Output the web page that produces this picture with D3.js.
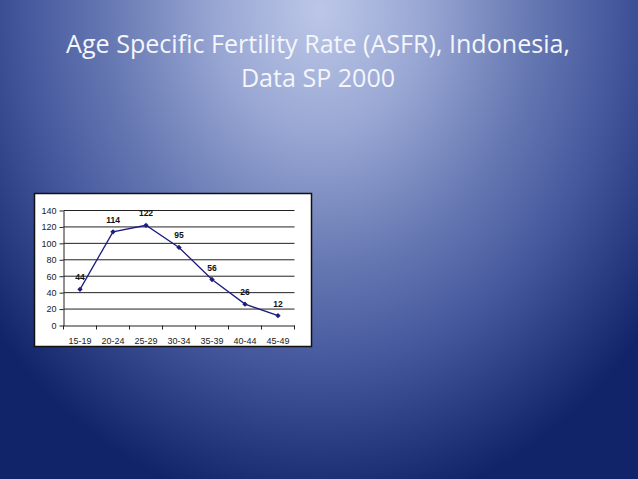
<!DOCTYPE html>
<html>
<head>
<meta charset="utf-8">
<script src="https://cdn.jsdelivr.net/npm/d3@7"></script>
<style>
html, body { margin: 0; padding: 0; overflow: hidden; background: #1a2c6e; }
</style>
</head>
<body>
<svg width="638" height="479"></svg>
<script>
// donnees
let ageGroups = ["15-19", "20-24", "25-29", "30-34", "35-39", "40-44", "45-49"];
let asfr = [44, 114, 122, 95, 56, 26, 12];
let yTicks = [0, 20, 40, 60, 80, 100, 120, 140];
let titleLines = ["Age Specific Fertility Rate (ASFR), Indonesia,", "Data SP 2000"];

let svg = d3.select("svg");

// fond degrade (clair en haut au centre, sombre dans les coins bas)
let grad = svg.append("defs")
    .append("radialGradient")
    .attr("id", "fond")
    .attr("gradientUnits", "userSpaceOnUse")
    .attr("cx", 320).attr("cy", 10).attr("r", 420)
    .attr("gradientTransform", "translate(320,10) scale(1,1.2) translate(-320,-10)");
[[0, "#bcc7e7"], [0.25, "#98a6d3"], [0.5, "#6779b3"], [0.72, "#42559b"], [1, "#112469"]]
    .forEach(s => grad.append("stop").attr("offset", s[0]).attr("stop-color", s[1]));

svg.append("rect")
    .attr("width", 638).attr("height", 479)
    .style("fill", "url(#fond)");

// titre
let title = svg.append("g")
    .style("font-family", "'Open Sans', sans-serif")
    .style("fill", "#f4f6fb");
let t1 = title.append("text")
    .attr("x", 318).attr("y", 53)
    .attr("text-anchor", "middle")
    .style("font-size", "24px")
    .text(titleLines[0]);
// ajuster la taille pour retrouver la largeur de l'original
let w = t1.node().getComputedTextLength();
let fs = 24 * 504 / w;
t1.style("font-size", fs + "px");
title.append("text")
    .attr("x", 318).attr("y", 87)
    .attr("text-anchor", "middle")
    .style("font-size", fs + "px")
    .text(titleLines[1]);

// cadre du graphique
svg.append("rect")
    .attr("x", 34.5).attr("y", 193.5)
    .attr("width", 277).attr("height", 153)
    .style("fill", "white")
    .style("stroke", "#111")
    .style("stroke-width", 1.5);

let x = d3.scaleBand().domain(ageGroups).range([63.5, 294.5]);
let y = d3.scaleLinear().domain([0, 140]).range([325.5, 210.5]);
let cx = d => x(d) + x.bandwidth() / 2;

// lignes de grille
svg.append("g")
    .selectAll("line")
    .data(yTicks.filter(v => v > 0))
    .enter()
    .append("line")
    .attr("x1", 63.5).attr("x2", 294.5)
    .attr("y1", d => y(d)).attr("y2", d => y(d))
    .style("stroke", "#222")
    .style("stroke-width", 1);

// axe vertical
let axeY = svg.append("g")
    .attr("transform", "translate(63.5,0)")
    .call(d3.axisLeft(y).tickValues(yTicks).tickSize(4).tickSizeOuter(0).tickPadding(3));
axeY.select(".domain").style("stroke", "#222");
axeY.selectAll(".tick line").style("stroke", "#222");
axeY.selectAll("text")
    .style("font-family", "'Liberation Sans', Arial, sans-serif")
    .style("font-size", "9px")
    .style("fill", "#222");

// axe horizontal
let axeX = svg.append("g")
    .attr("transform", "translate(0,325.5)")
    .call(d3.axisBottom(x).tickSize(0).tickSizeOuter(0).tickPadding(12));
axeX.select(".domain").style("stroke", "#222");
axeX.selectAll("text")
    .style("font-family", "'Liberation Sans', Arial, sans-serif")
    .style("font-size", "9px")
    .style("fill", "#222");
// petites graduations entre les categories
axeX.selectAll("line.sep")
    .data(ageGroups.map(d => x(d)).concat([x.range()[1]]))
    .enter()
    .append("line")
    .attr("class", "sep")
    .attr("x1", d => d).attr("x2", d => d)
    .attr("y1", 0).attr("y2", 4)
    .style("stroke", "#222");

// courbe
let serie = ageGroups.map((g, i) => ({ g: g, v: asfr[i] }));
svg.append("path")
    .datum(serie)
    .attr("d", d3.line().x(d => cx(d.g)).y(d => y(d.v)))
    .style("fill", "none")
    .style("stroke", "#1c1c80")
    .style("stroke-width", 1.3);

let losange = d3.symbolDiamond2 || d3.symbolDiamond;
svg.append("g")
    .selectAll("path")
    .data(serie)
    .enter()
    .append("path")
    .attr("transform", d => "translate(" + cx(d.g) + "," + y(d.v) + ")")
    .attr("d", d3.symbol(losange, 18))
    .style("fill", "#1c1c80");

// etiquettes des valeurs
svg.append("g")
    .selectAll("text")
    .data(serie)
    .enter()
    .append("text")
    .attr("x", d => cx(d.g))
    .attr("y", d => y(d.v) - 9)
    .attr("text-anchor", "middle")
    .style("font-family", "'Liberation Sans', Arial, sans-serif")
    .style("font-size", "8.5px")
    .style("font-weight", "bold")
    .style("fill", "#111")
    .text(d => d.v);
</script>
</body>
</html>
